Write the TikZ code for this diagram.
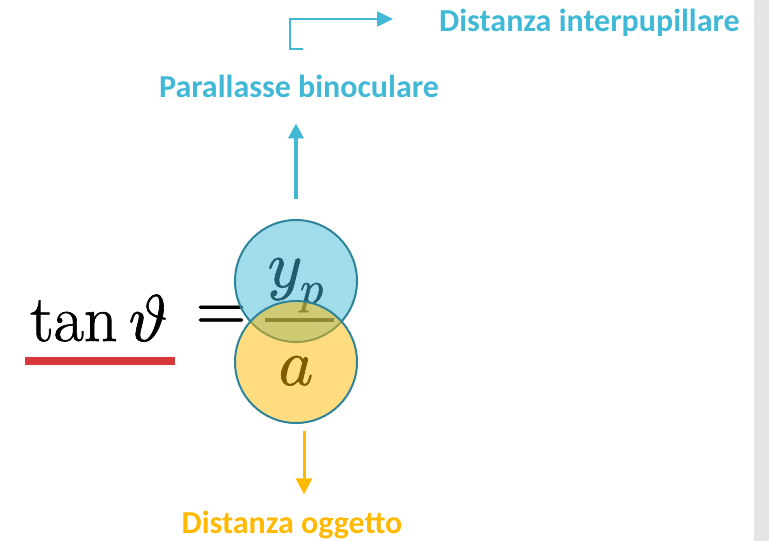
\documentclass[tikz,border=0pt]{standalone}
\usepackage{fontspec}
\usepackage{unicode-math}
\setmainfont{Latin Modern Roman}[FakeBold=1]
\setmathfont{Latin Modern Math}[FakeBold=1]
\setsansfont{Carlito}
\usetikzlibrary{arrows.meta}
\definecolor{cblue}{RGB}{65,185,214}
\definecolor{corange}{RGB}{255,185,0}
\definecolor{cteal}{RGB}{46,132,154}
\definecolor{cred}{RGB}{217,56,58}
\definecolor{cgray}{RGB}{228,228,228}
\tikzset{
  lbl/.style={font=\sffamily\bfseries\fontsize{32}{36}\selectfont, inner sep=0pt},
  mth/.style={font=\fontsize{66}{70}\selectfont, inner sep=0pt},
  circ/.style={circle, minimum size=122pt, inner sep=0pt, draw=cteal, line width=2pt},
  arr/.style={line width=3.5pt, -{Triangle[width=15pt,length=15pt]}},
}
\begin{document}
\begin{tikzpicture}[x=1pt,y=-1pt]
\useasboundingbox (0,0) rectangle (769,541);
\fill[cgray] (754,0) rectangle (769,541);
% formula
\node[mth, anchor=base west] (lhs) at (30,341) {$\tan\vartheta$};
\node[mth] (eq) at (221,318) {$=$};
\node[mth, anchor=base] (num) at (296,287) {$y_p$};
\node[mth, anchor=base] (den) at (296,385) {$a$};
\coordinate (barl) at (265,320);
\coordinate (barr) at (334,320);
\draw[line width=3.5pt] (barl) -- (barr);
\coordinate (ul) at (25,361);
\coordinate (ur) at (175,361);
\draw[cred, line width=8pt] (ul) -- (ur);
% circles
\node[circ, fill=cblue, fill opacity=0.5] (top) at (296,281) {};
\node[circ, fill=corange, fill opacity=0.5] (bot) at (296,362) {};
% labels
\node[lbl, text=cblue, anchor=base] (par) at (299,97) {Parallasse binoculare};
\node[lbl, text=cblue, anchor=base west] (dip) at (439,31) {Distanza interpupillare};
\node[lbl, text=corange, anchor=base] (dog) at (292,533) {Distanza oggetto};
% arrows
\draw[arr, cblue, shorten <=20pt, shorten >=26pt] (top.north) -- (top.north |- par.south);
\coordinate (e0) at (303,49);
\coordinate (e1) at (290,49);
\coordinate (e2) at (290,19);
\coordinate (e3) at (393,19);
\draw[cblue, line width=2.5pt, -{Triangle[width=15pt,length=16pt]}] (e0) -- (e1) -- (e2) -- (e3);
\draw[corange, line width=3pt, -{Triangle[width=16pt,length=16pt]}, shorten <=7pt, shorten >=16pt] ([xshift=8pt]bot.south) -- ([xshift=8pt]bot.south |- dog.north);
\end{tikzpicture}
\end{document}
